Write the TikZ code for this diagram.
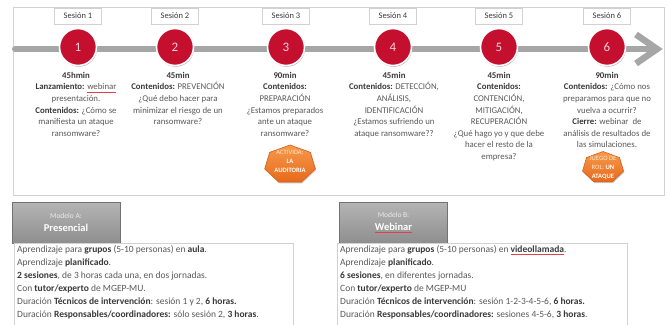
\documentclass[tikz,border=0pt]{standalone}
\usepackage{fontspec}
\setmainfont{Carlito}
\usetikzlibrary{shadows,calc}
\definecolor{txt}{HTML}{595959}
\definecolor{txtb}{HTML}{3A3A3A}
\definecolor{redc}{HTML}{C50F2F}
\definecolor{numc}{HTML}{F6D0D6}
\definecolor{barc}{HTML}{A6A6A6}
\definecolor{framec}{HTML}{D2D2D2}
\definecolor{orA}{HTML}{F59A4C}
\definecolor{orB}{HTML}{E8691B}
\definecolor{orD}{HTML}{D85E14}
\definecolor{hdrA}{HTML}{B5B5B5}
\definecolor{hdrB}{HTML}{8E8E8E}
\definecolor{spellc}{HTML}{E0404A}
\newcommand\bb[1]{\textbf{\color{txtb}#1}}
\newcommand\spellmark[1]{\setbox0\hbox{#1}\rlap{\raisebox{-2.2pt}{\color{spellc}\rule{\wd0}{0.4pt}}}#1}
\tikzset{
  sesbox/.style={draw=framec, fill=white, minimum width=47pt, minimum height=16pt, inner sep=0pt,
    font=\fontsize{8.5}{10}\selectfont, text=txtb},
  circ/.style={circle, fill=redc, draw=white, line width=1.6pt, minimum size=37pt, inner sep=0pt,
    text=numc, font=\fontsize{13}{15}\selectfont,
    drop shadow={shadow xshift=0.6pt, shadow yshift=-1.2pt, opacity=0.35, fill=black}},
  coltxt/.style={align=center, inner sep=0pt, text=txt, font=\fontsize{8.8}{11.6}\selectfont},
  hepta/.style={top color=orA, bottom color=orB, draw=orD, line width=0.6pt},
  heptxt/.style={align=center, inner sep=0pt, text=white, font=\fontsize{6.6}{9}\selectfont},
  modhdr/.style={top color=hdrA, bottom color=hdrB, draw=hdrB!80!black, line width=0.3pt,
    minimum width=108pt, minimum height=41pt, inner sep=0pt, align=center,
    drop shadow={shadow xshift=0.8pt, shadow yshift=-1pt, opacity=0.25, fill=black}},
  modbody/.style={draw=framec, fill=white, line width=0.8pt, inner sep=0pt, anchor=north west},
  modtxt/.style={align=left, inner sep=0pt, anchor=north west, text=txt,
    font=\fontsize{9.5}{13}\selectfont}
}
\begin{document}
\begin{tikzpicture}[x=1pt,y=-1pt]
\useasboundingbox (0,0) rectangle (668,324);
\fill[white] (0,0) rectangle (668,324);

% outer frame
\node[draw=framec, line width=1pt, minimum width=651pt, minimum height=188pt, anchor=north west,
  inner sep=0pt] (frame) at (13,7) {};

% timeline bar
\coordinate (barL) at (15,49);
\coordinate (barR) at (657,49);
\coordinate (ah1) at (636,34.5);
\coordinate (ah2) at (636,63.5);
\draw[barc, line width=6pt, line cap=round] (barL) -- (barR);
\draw[barc, line width=6.5pt, line join=miter] (ah1) -- (barR) -- (ah2);

% session labels
\foreach \i/\x in {1/78,2/175,3/286,4/393,5/499,6/607}{
  \node[sesbox] (s\i) at (\x,16) {Sesión \i};
  \node[circ] (c\i) at (\x,47) {\i};
}

% texts
\node[coltxt, anchor=north] (t1) at (76,72) {\bb{45hmin}\\
\bb{Lanzamiento:} \spellmark{webinar}\\
presentación.\\
\bb{Contenidos:} ¿Cómo se\\
manifiesta un ataque\\
ransomware?};
\node[coltxt, anchor=north] (t2) at (178,72) {\bb{45min}\\
\bb{Contenidos:} PREVENCIÓN\\
¿Qué debo hacer para\\
minimizar el riesgo de un\\
ransomware?};
\node[coltxt, anchor=north] (t3) at (285,72) {\bb{90min}\\
\bb{Contenidos:}\\
PREPARACIÓN\\
¿Estamos preparados\\
ante un ataque\\
ransomware?};
\node[coltxt, anchor=north] (t4) at (394,72) {\bb{45min}\\
\bb{Contenidos:} DETECCIÓN,\\
ANÁLISIS,\\
IDENTIFICACIÓN\\
¿Estamos sufriendo un\\
ataque ransomware??};
\node[coltxt, anchor=north] (t5) at (499,72) {\bb{45min}\\
\bb{Contenidos:}\\
CONTENCIÓN,\\
MITIGACIÓN,\\
RECUPERACIÓN\\
¿Qué hago yo y que debe\\
hacer el resto de la\\
empresa?};
\node[coltxt, anchor=north] (t6) at (607,72) {\bb{90min}\\
\bb{Contenidos:} ¿Cómo nos\\
preparamos para que no\\
vuelva a ocurrir?\\
\bb{Cierre:} webinar\ \ de\\
análisis de resultados de\\
las simulaciones.};

% heptagons
\begin{scope}[shift={(290,164.5)}]
  \fill[black, opacity=0.22, shift={(0.8,1.2)}] (-90:26 and 19.5) -- (-38.57:26 and 19.5) -- (12.86:26 and 19.5) -- (64.29:26 and 19.5) -- (115.71:26 and 19.5) -- (167.14:26 and 19.5) -- (218.57:26 and 19.5) -- cycle;
  \path[hepta] (-90:26 and 19.5) -- (-38.57:26 and 19.5) -- (12.86:26 and 19.5) -- (64.29:26 and 19.5) -- (115.71:26 and 19.5) -- (167.14:26 and 19.5) -- (218.57:26 and 19.5) -- cycle;
\end{scope}
\node[heptxt] (h1) at (290,161.5) {\color{white!82!orange}ACTIVIDA:\\ \textbf{LA}\\ \textbf{AUDITORIA}};
\begin{scope}[shift={(603,167.5)}]
  \fill[black, opacity=0.22, shift={(0.8,1.2)}] (-90:21 and 16) -- (-38.57:21 and 16) -- (12.86:21 and 16) -- (64.29:21 and 16) -- (115.71:21 and 16) -- (167.14:21 and 16) -- (218.57:21 and 16) -- cycle;
  \path[hepta] (-90:21 and 16) -- (-38.57:21 and 16) -- (12.86:21 and 16) -- (64.29:21 and 16) -- (115.71:21 and 16) -- (167.14:21 and 16) -- (218.57:21 and 16) -- cycle;
\end{scope}
\node[heptxt] (h2) at (603,168) {\color{white!82!orange}JUEGO DE\\ \color{white!82!orange}ROL: \textbf{\color{white}UN}\\ \textbf{ATAQUE}};

% model A
\node[modhdr] (mA) at (66,222.5) {{\fontsize{7.5}{9}\selectfont\color{white!92!black}Modelo A:}\\[1pt]
  {\fontsize{10.5}{12}\selectfont\bfseries\color{white}Presencial}};
\node[modbody, minimum width=279pt, minimum height=90pt] (bA) at (14,243) {};
\node[modtxt] (tA) at ($(bA.north west)+(3,2.5)$) {Aprendizaje para \bb{grupos} (5-10 personas) en \bb{aula}.\\
Aprendizaje \bb{planificado}.\\
\bb{2 sesiones}, de 3 horas cada una, en dos jornadas.\\
Con \bb{tutor/experto} de MGEP-MU.\\
Duración \bb{Técnicos de intervención}: sesión 1 y 2, \bb{6 horas.}\\
Duración \bb{Responsables/coordinadores:} sólo sesión 2, \bb{3 horas}.};

% model B
\node[modhdr] (mB) at (393.5,222.5) {{\fontsize{7.5}{9}\selectfont\color{white!92!black}Modelo B:}\\[1pt]
  {\fontsize{10.5}{12}\selectfont\bfseries\color{white}\spellmark{Webinar}}};
\node[modbody, minimum width=290pt, minimum height=90pt] (bB) at (337,243) {};
\node[modtxt] (tB) at ($(bB.north west)+(3,2.5)$) {Aprendizaje para \bb{grupos} (5-10 personas) en \bb{\spellmark{videollamada}}.\\
Aprendizaje \bb{planificado}.\\
\bb{6 sesiones}, en diferentes jornadas.\\
Con \bb{tutor/experto} de MGEP-MU\\
Duración \bb{Técnicos de intervención}: sesión 1-2-3-4-5-6, \bb{6 horas.}\\
Duración \bb{Responsables/coordinadores:} sesiones 4-5-6, \bb{3 horas}.};
\end{tikzpicture}
\end{document}
